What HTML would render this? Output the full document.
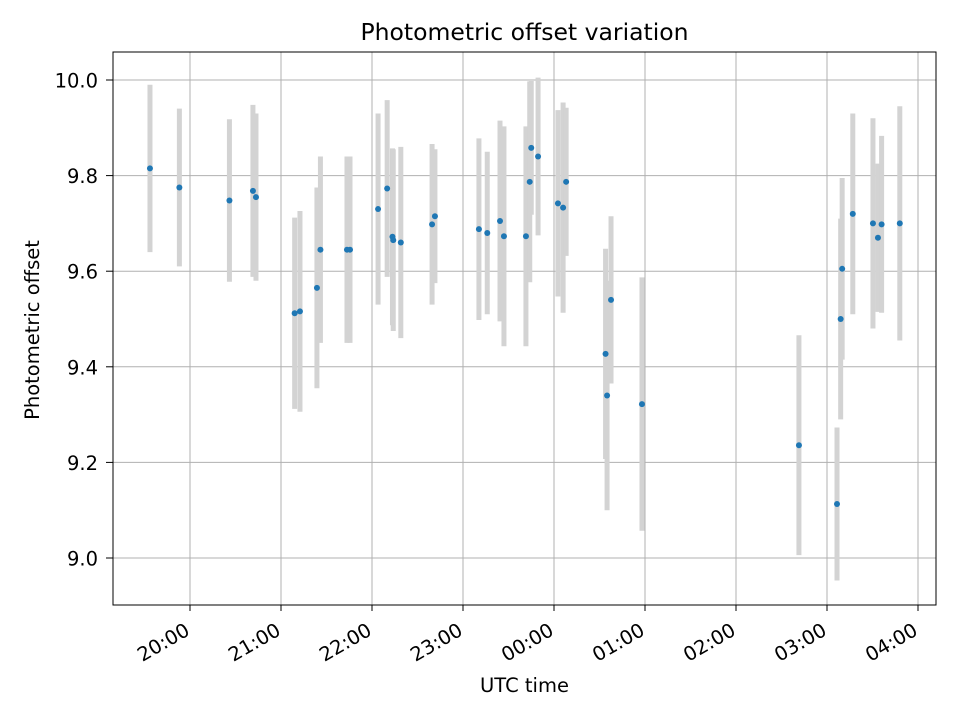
<!DOCTYPE html>
<html><head><meta charset="utf-8"><style>
body{margin:0;background:#fff}
svg{display:block;font-family:"DejaVu Sans","Liberation Sans",sans-serif}
</style></head><body>
<svg id="chart" width="960" height="720" viewBox="0 0 960 720">
<text x="524.5" y="40" text-anchor="middle" font-size="23.5">Photometric offset variation</text>
<g id="grid"></g>
<g id="bars"></g>
<g id="pts"></g>
<rect x="113" y="52" width="823" height="553" fill="none" stroke="#000" stroke-width="1"/>
<g id="ticks"></g>
<text x="524.5" y="692" text-anchor="middle" font-size="19.5">UTC time</text>
<text transform="translate(39,330) rotate(-90)" text-anchor="middle" font-size="19.5">Photometric offset</text>
</svg>
<script>
// minutes after 20:00 UTC
const times=[-26.4,-7,26,41.5,43.5,69,72.5,83.7,86,103.5,105.5,124,130,133.5,134,139,159.6,161.5,190.5,196,204.4,207,221.5,224,225,229.5,242.6,246,248,274,275,277.6,298,401.5,426.6,429,430,437,450.3,453.6,456,468];
const values=[9.815,9.775,9.748,9.768,9.755,9.512,9.516,9.565,9.645,9.645,9.645,9.73,9.773,9.672,9.665,9.66,9.698,9.715,9.688,9.68,9.705,9.673,9.673,9.787,9.858,9.84,9.742,9.733,9.787,9.427,9.34,9.54,9.322,9.236,9.113,9.5,9.605,9.72,9.7,9.67,9.698,9.7];
const errors=[0.175,0.165,0.17,0.18,0.175,0.2,0.21,0.21,0.195,0.195,0.195,0.2,0.185,0.185,0.19,0.2,0.168,0.14,0.19,0.17,0.21,0.23,0.23,0.21,0.14,0.165,0.195,0.22,0.155,0.22,0.24,0.175,0.265,0.23,0.16,0.21,0.19,0.21,0.22,0.155,0.185,0.245];
const xTickLabels=["20:00","21:00","22:00","23:00","00:00","01:00","02:00","03:00","04:00"];
const yTickLabels=["9.0","9.2","9.4","9.6","9.8","10.0"];
const NS="http://www.w3.org/2000/svg";
const X=m=>190+91*(m/60);
const Y=v=>80+(10-v)*478;
function mk(tag,attrs,parent){const e=document.createElementNS(NS,tag);for(const k in attrs)e.setAttribute(k,attrs[k]);parent.appendChild(e);return e;}
const grid=document.getElementById('grid'),ticks=document.getElementById('ticks'),bars=document.getElementById('bars'),pts=document.getElementById('pts');
xTickLabels.forEach((l,i)=>{const x=X(i*60);
 const g=mk('line',{x1:x,x2:x,y1:52,y2:605,stroke:'#b0b0b0','stroke-width':1},grid);
 
 const t=mk('line',{x1:x,x2:x,y1:605,y2:611,stroke:'#000'},ticks);
 
 const tx=mk('text',{x:x+1,y:634,'font-size':19.5,'text-anchor':'end',transform:`rotate(-30 ${x+1} 634)`},ticks);
 tx.textContent=l;
 
});
yTickLabels.forEach(l=>{const y=Y(parseFloat(l));
 const g=mk('line',{x1:113,x2:936,y1:y,y2:y,stroke:'#b0b0b0','stroke-width':1},grid);
 
 const t=mk('line',{x1:106,x2:113,y1:y,y2:y,stroke:'#000'},ticks);
 
 const tx=mk('text',{x:98,y:y+7.5,'font-size':19.5,'text-anchor':'end'},ticks);
 tx.textContent=l;
 
});
times.forEach((m,i)=>{const x=X(m);
 const b=mk('line',{x1:x,x2:x,y1:Y(values[i]+errors[i]),y2:Y(values[i]-errors[i]),stroke:'#d3d3d3','stroke-width':5},bars);
 
});
times.forEach((m,i)=>{
 const c=mk('circle',{cx:X(m),cy:Y(values[i]),r:3,fill:'#1f77b4'},pts);
 
});
</script>
</body></html>
